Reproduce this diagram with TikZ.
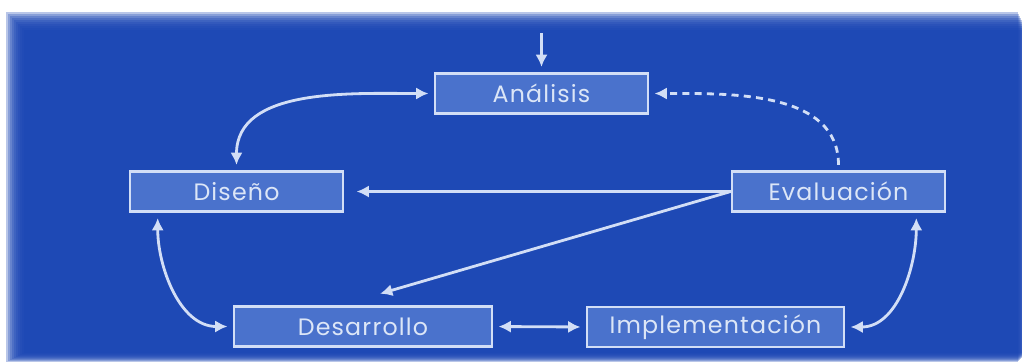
\documentclass[tikz,border=0pt]{standalone}
\usepackage{fontspec}
\setmainfont[LetterSpace=5]{Poppins}
\usepackage{tikz}
\usetikzlibrary{arrows,arrows.meta,positioning}
\definecolor{fondo}{HTML}{1A45B5}
\definecolor{caja}{HTML}{4A72CC}
\definecolor{borde}{HTML}{D2DEF6}
\definecolor{letra}{HTML}{DCE6F7}

\begin{document}
\begin{tikzpicture}[x=0.02cm,y=-0.02cm,>={Latex[length=7pt,width=7pt]},
    fase/.style = {draw=borde, fill=caja, line width=1.5pt, text=letra,
      minimum width=4.26cm, minimum height=0.8cm, font=\fontsize{13.5}{15}\selectfont},
    flecha/.style = {draw=borde, line width=1.6pt, shorten >=3pt, shorten <=3pt}]
    \useasboundingbox (0,0) rectangle (1022,362);
    \fill[white] (0,0) rectangle (1022,362);
    \foreach \i in {0,...,9}
      \fill[fondo, opacity=0.3] (6+2*\i,12+2*\i) rectangle (1018+\i,362-\i);
    \node[fase] (ana) at (541.5,93.5) {Análisis};
    \node[fase] (dis) at (236.5,191.5) {Diseño};
    \node[fase] (eva) at (838.5,191.5) {Evaluación};
    \node[fase, minimum width=5.16cm] (des) at (363,326.5) {Desarrollo};
    \node[fase, minimum width=5.14cm] (imp) at (715.5,327) {Implementación};
    \coordinate (inicio) at (541.5,33);
    \draw[flecha,->,shorten <=0pt] (inicio) -- (ana.north);
    \draw[flecha,<->] (ana.west) to[out=180,in=90] (dis.north);
    \draw[flecha,->,dash pattern=on 4pt off 3pt] (eva.north) to[out=90,in=0] (ana.east);
    \draw[flecha,->,shorten >=7pt,shorten <=0pt] (eva.west) -- (dis.east);
    \draw[flecha,->,shorten <=0pt] (eva.west) -- ([xshift=0.24cm,yshift=0.2cm]des.north);
    \draw[flecha,<->] ([xshift=0.58cm]dis.south west) to[out=-90,in=180] (des.west);
    \draw[flecha,<->] (des.east) -- (imp.west);
    \draw[flecha,<->] (imp.east) to[out=0,in=-90] ([xshift=-0.6cm]eva.south east);
  \end{tikzpicture}
\end{document}
